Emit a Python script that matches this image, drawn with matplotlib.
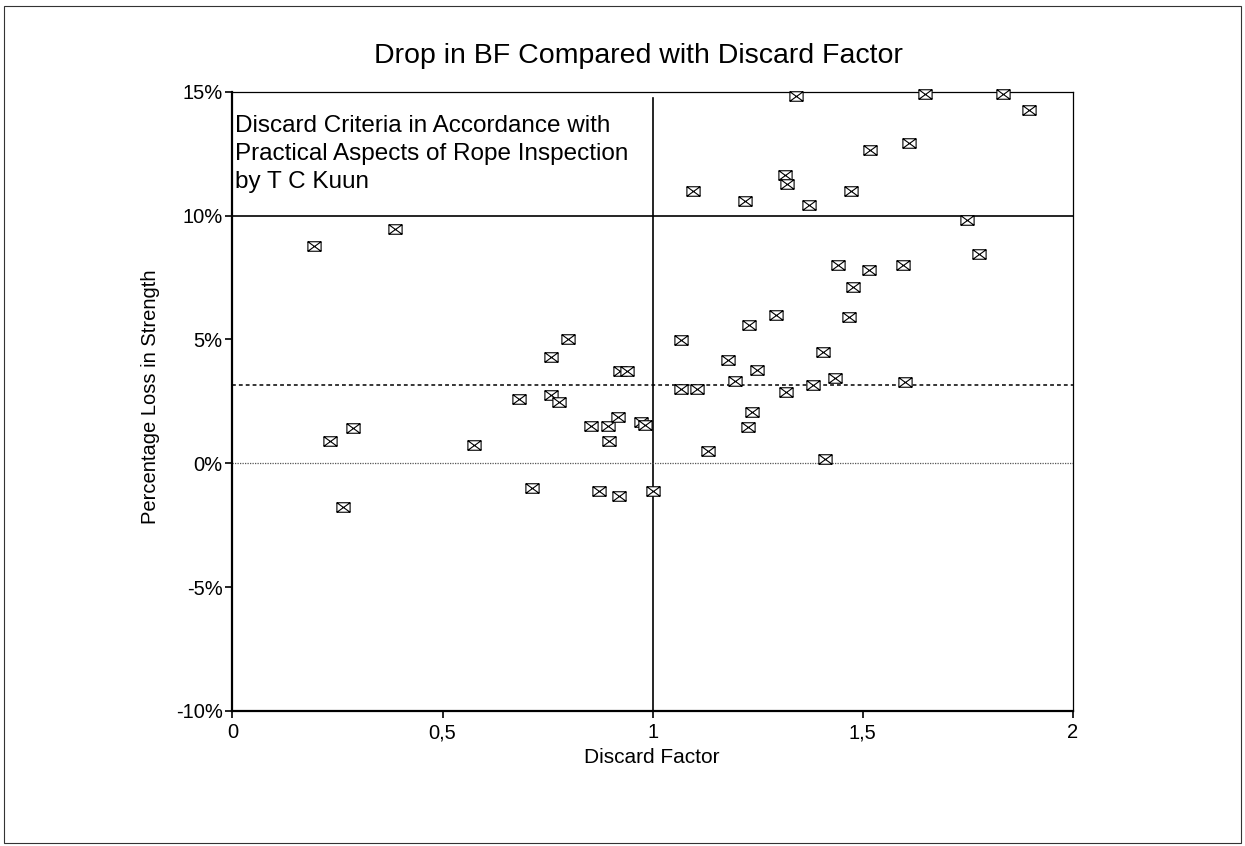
import matplotlib
matplotlib.use("Agg")
import matplotlib.pyplot as plt
import numpy as np
from matplotlib.path import Path
from matplotlib.patches import Rectangle
from matplotlib.ticker import FuncFormatter

plt.rcParams['font.family'] = ['Liberation Sans', 'DejaVu Sans']

# data (discard factor, % loss in strength)
discard_factor = [0.193, 0.388, 0.798, 0.757, 0.922, 0.938, 0.683, 0.757, 0.777,
                  0.231, 0.286, 0.264, 0.576, 0.713, 0.854, 0.894, 0.918, 0.896,
                  0.873, 0.920, 0.972, 0.982, 1.000,
                  1.342, 1.649, 1.834, 1.895, 1.610, 1.518, 1.314, 1.320, 1.096,
                  1.220, 1.373, 1.472, 1.748, 1.776, 1.442, 1.514, 1.596, 1.477,
                  1.294, 1.229, 1.467, 1.068, 1.405, 1.179, 1.248, 1.195, 1.435,
                  1.601, 1.068, 1.105, 1.381, 1.318,
                  1.236, 1.228, 1.131, 1.411]
loss_pct = [8.77, 9.44, 5.03, 4.28, 3.72, 3.74, 2.61, 2.77, 2.46,
            0.90, 1.41, -1.75, 0.74, -0.98, 1.51, 1.51, 1.88, 0.88,
            -1.13, -1.33, 1.68, 1.56, -1.10,
            14.81, 14.91, 14.91, 14.27, 12.92, 12.64, 11.63, 11.29, 10.99,
            10.57, 10.43, 10.98, 9.82, 8.45, 8.01, 7.79, 8.00, 7.12,
            5.97, 5.58, 5.90, 4.96, 4.51, 4.18, 3.76, 3.31, 3.43,
            3.30, 2.98, 2.98, 3.14, 2.87,
            2.06, 1.45, 0.51, 0.19]

criteria_x = 1.0
criteria_y = 10.0
mean_loss = 3.14

xticks = [0, 0.5, 1, 1.5, 2]
xticklabels = ["0", "0,5", "1", "1,5", "2"]
yticks = [-10, -5, 0, 5, 10, 15]

# envelope marker: box with crossed diagonals
verts = [(-1, -0.72), (1, -0.72), (1, 0.72), (-1, 0.72), (-1, -0.72),
         (-1, -0.72), (1, 0.72), (-1, 0.72), (1, -0.72)]
codes = [Path.MOVETO, Path.LINETO, Path.LINETO, Path.LINETO, Path.CLOSEPOLY,
         Path.MOVETO, Path.LINETO, Path.MOVETO, Path.LINETO]
env = Path(verts, codes)

W, H = 1245, 846
fig = plt.figure(figsize=(W / 100, H / 100), dpi=100)
fig.patches.append(Rectangle((0.003, 0.003), 0.994, 0.99, transform=fig.transFigure,
                             fill=False, lw=0.8, ec='#333333'))

ax = fig.add_axes([0.1867, 0.1596, 0.675, 0.732])
ax.set_xlim(0, 2)
ax.set_ylim(-10, 15)

ax.plot([criteria_x, criteria_x], [-10, 14.75], color='black', lw=1.2, zorder=2)
ax.axhline(criteria_y, color='black', lw=1.2, zorder=2)
ax.axhline(mean_loss, color='black', lw=1.1, ls=(0, (2.5, 2)), zorder=2)
ax.axhline(0, color='#555555', lw=0.9, ls=(0, (1, 1)), zorder=2)

ax.plot(discard_factor, loss_pct, ls='none', marker=env, markersize=9.5,
        mfc='white', mec='black', mew=0.8, zorder=3, clip_on=False)

ax.set_xticks(xticks)
ax.set_xticklabels(xticklabels)
ax.set_yticks(yticks)
ax.yaxis.set_major_formatter(FuncFormatter(lambda v, p: "%d%%" % v))
ax.tick_params(direction='out', length=5, width=1.2, labelsize=14.5, pad=2)
ax.tick_params(axis='x', pad=4)

for s in ['left', 'bottom']:
    ax.spines[s].set_linewidth(1.6)
for s in ['top', 'right']:
    ax.spines[s].set_linewidth(0.9)

fig.text(652 / W, 1 - 757 / H, "Discard Factor", fontsize=15, ha='center', va='center')
fig.text(150 / W, 1 - 397 / H, "Percentage Loss in Strength", fontsize=14.5,
         rotation=90, ha='center', va='center')
fig.text(638 / W, 1 - 56 / H, "Drop in BF Compared with Discard Factor",
         fontsize=20.5, ha='center', va='center')

ax.text(0.003, 0.962, "Discard Criteria in Accordance with\nPractical Aspects of Rope Inspection\nby T C Kuun",
        transform=ax.transAxes, ha='left', va='top', fontsize=17.5, linespacing=1.34)

fig.savefig("out.png", dpi=100)
